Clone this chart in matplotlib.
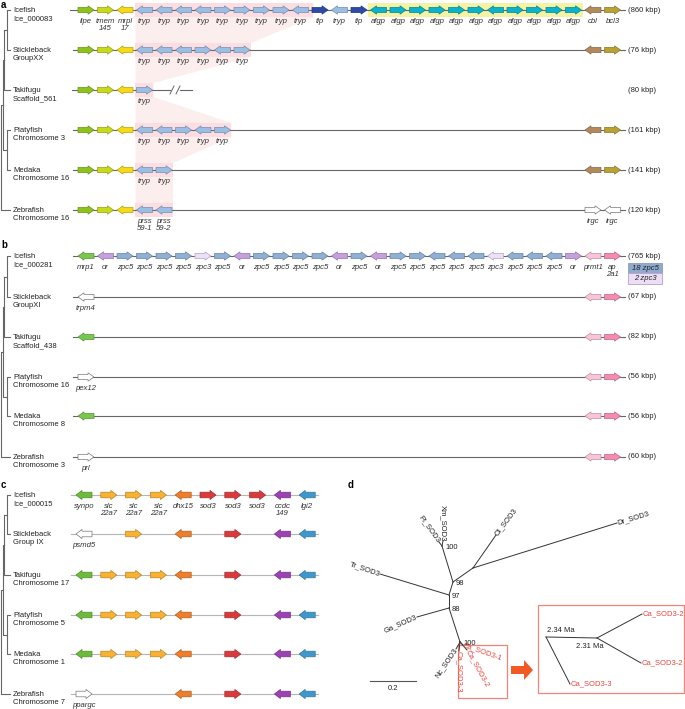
import numpy as np
import matplotlib.pyplot as plt
from matplotlib.patches import Polygon, Rectangle
from matplotlib.colors import to_rgb

plt.rcParams['font.family'] = ['Liberation Sans', 'DejaVu Sans']

# ---------------- data ----------------
species = ['Icefish', 'Stickleback', 'Takifugu', 'Platyfish', 'Medaka', 'Zebrafish']
loci_a = ['Ice_000083', 'GroupXX', 'Scaffold_561', 'Chromosome 3', 'Chromosome 16', 'Chromosome 16']
loci_b = ['Ice_000281', 'GroupXI', 'Scaffold_438', 'Chromosome 16', 'Chromosome 8', 'Chromosome 3']
loci_c = ['Ice_000015', 'Group IX', 'Chromosome 17', 'Chromosome 5', 'Chromosome 1', 'Chromosome 7']
kbp_a = ['860', '76', '80', '161', '141', '120']
kbp_b = ['765', '67', '82', '56', '56', '60']

colors = {
    'lipe': '#8cc31f', 'tmem': '#c9d81a', 'mrpl': '#f7d917', 'tryp': '#9bbfe4',
    'tlp': '#2d4aa8', 'afgp': '#0ab3c9', 'cbl': '#b38a5c', 'bcl3': '#b9a235',
    'mrp1': '#78c850', 'or': '#c4a0e0', 'zpc5': '#8fb0d6', 'zpc3': '#ece0f4',
    'prmt1': '#f8c4da', 'ap2a1': '#f58cae',
    'synpo': '#6dbb3c', 'slc': '#f8b133', 'dhx15': '#ef7d2a', 'sod3': '#d93a3c',
    'ccdc': '#9b41b3', 'lgi2': '#3f98cd', 'white': '#ffffff',
}

# panel a: icefish genes (slot order), directions, labels
ice_a_genes = ['lipe', 'tmem', 'mrpl'] + ['tryp'] * 9 + ['tlp', 'tryp', 'tlp'] + ['afgp'] * 11 + ['cbl', 'bcl3']
ice_a_dirs = [1, 1, -1, -1, -1, -1, -1, 1, 1, 1, 1, -1, 1, -1, 1,
              -1, 1, 1, 1, 1, 1, -1, 1, 1, 1, 1, -1, 1]
ice_a_labels = ['lipe', 'tmem\n145', 'mrpl\n17'] + ['tryp'] * 9 + ['tlp', 'tryp', 'tlp'] + ['afgp'] * 11 + ['cbl', 'bcl3']

# other rows: (slot, gene, dir, label)
rows_a = [
    [(0, 'lipe', 1, ''), (1, 'tmem', 1, ''), (2, 'mrpl', -1, ''),
     (3, 'tryp', -1, 'tryp'), (4, 'tryp', -1, 'tryp'), (5, 'tryp', -1, 'tryp'),
     (6, 'tryp', 1, 'tryp'), (7, 'tryp', -1, 'tryp'), (8, 'tryp', 1, 'tryp'),
     (26, 'cbl', -1, ''), (27, 'bcl3', 1, '')],
    [(0, 'lipe', 1, ''), (1, 'tmem', 1, ''), (2, 'mrpl', -1, ''), (3, 'tryp', 1, 'tryp')],
    [(0, 'lipe', 1, ''), (1, 'tmem', 1, ''), (2, 'mrpl', -1, ''),
     (3, 'tryp', -1, 'tryp'), (4, 'tryp', -1, 'tryp'), (5, 'tryp', 1, 'tryp'),
     (6, 'tryp', -1, 'tryp'), (7, 'tryp', 1, 'tryp'), (26, 'cbl', -1, ''), (27, 'bcl3', 1, '')],
    [(0, 'lipe', 1, ''), (1, 'tmem', 1, ''), (2, 'mrpl', -1, ''),
     (3, 'tryp', -1, 'tryp'), (4, 'tryp', 1, 'tryp'), (26, 'cbl', -1, ''), (27, 'bcl3', 1, '')],
    [(0, 'lipe', 1, ''), (1, 'tmem', 1, ''), (2, 'mrpl', -1, ''),
     (3, 'tryp', -1, 'prss\n59-1'), (4, 'tryp', -1, 'prss\n59-2'),
     (26, 'white', 1, 'irgc'), (27, 'white', -1, 'irgc')],
]
tryp_span_a = [9, 6, 1, 5, 2, 2]  # tryp genes per species (shaded block)

ice_b_genes = (['mrp1', 'or'] + ['zpc5'] * 4 + ['zpc3', 'zpc5', 'or'] + ['zpc5'] * 4 +
               ['or', 'zpc5', 'or'] + ['zpc5'] * 5 + ['zpc3'] + ['zpc5'] * 3 + ['or', 'prmt1', 'ap2a1'])
ice_b_dirs = [-1, -1, 1, 1, 1, 1, 1, 1, -1, 1, 1, 1, 1, -1, 1, -1,
              1, 1, -1, -1, -1, -1, -1, -1, -1, 1, -1, 1]
ice_b_labels = [g if g != 'ap2a1' else 'ap\n2a1' for g in ice_b_genes]
rows_b = [
    [(0, 'white', -1, 'trpm4'), (26, 'prmt1', -1, ''), (27, 'ap2a1', 1, '')],
    [(0, 'mrp1', -1, ''), (26, 'prmt1', -1, ''), (27, 'ap2a1', 1, '')],
    [(0, 'white', 1, 'pex12'), (26, 'prmt1', -1, ''), (27, 'ap2a1', 1, '')],
    [(0, 'mrp1', -1, ''), (26, 'prmt1', -1, ''), (27, 'ap2a1', 1, '')],
    [(0, 'white', 1, 'prl'), (26, 'prmt1', -1, ''), (27, 'ap2a1', 1, '')],
]

ice_c_genes = ['synpo', 'slc', 'slc', 'slc', 'dhx15', 'sod3', 'sod3', 'sod3', 'ccdc', 'lgi2']
ice_c_dirs = [-1, 1, 1, 1, -1, 1, 1, 1, -1, -1]
ice_c_labels = ['synpo', 'slc\n22a7', 'slc\n22a7', 'slc\n22a7', 'dhx15', 'sod3', 'sod3', 'sod3', 'ccdc\n149', 'lgi2']
full_c = [(0, 'synpo', -1, ''), (1, 'slc', 1, ''), (2, 'slc', 1, ''), (3, 'slc', 1, ''),
          (4, 'dhx15', -1, ''), (6, 'sod3', 1, ''), (8, 'ccdc', -1, ''), (9, 'lgi2', -1, '')]
rows_c = [
    [(0, 'white', -1, 'psmd5'), (2, 'slc', 1, ''), (4, 'dhx15', -1, ''),
     (6, 'sod3', 1, ''), (8, 'ccdc', -1, ''), (9, 'lgi2', -1, '')],
    full_c, full_c, full_c,
    [(0, 'white', 1, 'ppargc'), (4, 'dhx15', -1, ''), (6, 'sod3', 1, ''),
     (8, 'ccdc', -1, ''), (9, 'lgi2', -1, '')],
]

# panel d tree: node positions and branches
nodes_d = {
    'xp': (442, 546), 'n98': (453, 582), 'nod': (473, 568), 'Ol': (496, 535), 'Dr': (617, 523),
    'n97': (449, 595), 'Tr': (380, 574), 'n88': (449, 608), 'Ga': (417, 617),
    'n100': (460, 642), 'Nc': (456, 649), 'Ca1': (463, 645), 'Ca2': (467, 650), 'Ca3': (459, 651),
    'Xm': (443, 541), 'Pl': (439, 542),
}
edges_d = [('xp', 'n98'), ('xp', 'Xm'), ('xp', 'Pl'), ('n98', 'nod'), ('nod', 'Ol'), ('nod', 'Dr'),
           ('n98', 'n97'), ('n97', 'Tr'), ('n97', 'n88'), ('n88', 'Ga'), ('n88', 'n100'),
           ('n100', 'Nc'), ('n100', 'Ca1'), ('n100', 'Ca2'), ('n100', 'Ca3')]
leaf_labels_d = [('Xm', 'Xm_SOD3', -90, 'right', 'k'), ('Pl', 'Pl_SOD3', -54, 'right', 'k'),
                 ('Ol', 'Ol_SOD3', 53, 'left', 'k'), ('Dr', 'Dr_SOD3', 17, 'left', 'k'),
                 ('Tr', 'Tr_SOD3', -19, 'right', 'k'), ('Ga', 'Ga_SOD3', 24, 'right', 'k'),
                 ('Nc', 'Nc_SOD3', 56, 'right', 'k'), ('Ca1', 'Ca_SOD3-1', -19, 'left', 'r'),
                 ('Ca2', 'Ca_SOD3-2', -61, 'left', 'r'), ('Ca3', 'Ca_SOD3-3', -90, 'left', 'r')]
bootstraps = [('xp', '100'), ('n98', '98'), ('n97', '97'), ('n88', '88'), ('n100', '100')]
inset_nodes = {'root': (546, 637), 'mid': (597, 638), 'L1': (642, 614), 'L2': (641, 663), 'L3': (570, 684)}
inset_leaves = [('L1', 'Ca_SOD3-2'), ('L2', 'Ca_SOD3-2'), ('L3', 'Ca_SOD3-3')]
ages = ['2.34 Ma', '2.31 Ma']

RED = '#e8453c'
FS = 5.5
FS_GENE = 5.6

# ---------------- drawing ----------------
fig = plt.figure(figsize=(6.85, 7.09), dpi=100)
ax = fig.add_axes([0, 0, 1, 1])
ax.set_xlim(0, 685)
ax.set_ylim(709, 0)
ax.axis('off')


def darker(c, f=0.75):
    r, g, b = to_rgb(c)
    return (r * f, g * f, b * f)


def gene(x, y, key, d, w=16, bh=2.6, hh=4.2, hl=6):
    fc = colors[key]
    ec = '#777777' if key == 'white' else darker(fc)
    if key == 'zpc3':
        ec = '#b9a0d0'
    x0, x1 = x - w / 2, x + w / 2
    if d > 0:
        pts = [(x0, y - bh), (x1 - hl, y - bh), (x1 - hl, y - hh), (x1, y),
               (x1 - hl, y + hh), (x1 - hl, y + bh), (x0, y + bh)]
    else:
        pts = [(x1, y - bh), (x0 + hl, y - bh), (x0 + hl, y - hh), (x0, y),
               (x0 + hl, y + hh), (x0 + hl, y + bh), (x1, y + bh)]
    ax.add_patch(Polygon(pts, closed=True, fc=fc, ec=ec, lw=0.5, zorder=3))


def gene_label(x, y, text):
    if text:
        ax.text(x, y + 8, text, ha='center', va='top', fontsize=FS_GENE, style='italic',
                color='#333333', linespacing=1.05, zorder=4)


def row_label(y, sp, loc):
    ax.text(13, y + 4.5, sp + '\n' + loc, ha='left', va='center', fontsize=FS,
            color='#222222', linespacing=1.12)


def tree(ys):
    # ((((1,2),3),(4,5)),6)
    k = dict(color='#666666', lw=0.8)
    y12 = (ys[0] + ys[1]) / 2
    y123 = (y12 + ys[2]) / 2
    y45 = (ys[3] + ys[4]) / 2
    y12345 = (y123 + y45) / 2
    ax.plot([10, 7, 7, 10], [ys[0], ys[0], ys[1], ys[1]], **k)
    ax.plot([7, 4.5], [y12, y12], **k)
    ax.plot([10, 4.5, 4.5], [ys[2], ys[2], y12], **k)
    ax.plot([10, 7, 7, 10], [ys[3], ys[3], ys[4], ys[4]], **k)
    ax.plot([4.5, 3, 3, 7], [y123, y123, y45, y45], **k)
    ax.plot([3, 1, 1, 10], [y12345, y12345, ys[5], ys[5]], **k)


# ---- panel a ----
ya = [10, 50, 90, 130, 170, 210]
slot_ab = 86 + 19.5 * np.arange(28)
tryp_l = slot_ab[3] - 9
tryp_r = [slot_ab[3 + n - 1] + 9 for n in tryp_span_a]
shade = [(tryp_l, ya[0] - 7)]
for i, y in enumerate(ya):
    shade += [(tryp_r[i], y - 7), (tryp_r[i], y + 7)] if i else [(tryp_r[i] + 4, y - 7), (tryp_r[i] + 4, y + 7)]
shade += [(tryp_l, ya[-1] + 7)]
ax.add_patch(Polygon(shade, closed=True, fc='#fdeeee', ec='none', zorder=0))
for i, y in enumerate(ya):
    extra = 4 if i == 0 else 0
    ax.add_patch(Rectangle((tryp_l, y - 7), tryp_r[i] + extra - tryp_l, 14, fc='#fbdde2', ec='none', zorder=1))
ax.add_patch(Rectangle((slot_ab[15] - 10, ya[0] - 7), slot_ab[25] - slot_ab[15] + 20, 14,
                       fc='#f4f3a3', ec='none', zorder=1))

for i, y in enumerate(ya):
    if i == 2:
        ax.plot([72, 170], [y, y], color='#666666', lw=0.8, zorder=2)
        ax.plot([180, 192], [y, y], color='#666666', lw=0.8, zorder=2)
        for bx in (172, 178):
            ax.plot([bx - 2, bx + 2], [y + 4, y - 4], color='#666666', lw=0.7, zorder=2)
    else:
        ax.plot([70 if i == 0 else 73, 625], [y, y], color='#666666', lw=0.8, zorder=2)
    row_label(y, species[i], loci_a[i])
    ax.text(628, y, '(' + kbp_a[i] + ' kbp)', ha='left', va='center', fontsize=FS, color='#222222')
for s in range(28):
    gene(slot_ab[s], ya[0], ice_a_genes[s], ice_a_dirs[s])
    gene_label(slot_ab[s], ya[0], ice_a_labels[s])
for i, row in enumerate(rows_a):
    for s, g, d, lab in row:
        gene(slot_ab[s], ya[i + 1], g, d)
        gene_label(slot_ab[s], ya[i + 1], lab)
tree(ya)

# ---- panel b ----
yb = [256, 297, 337, 377, 416, 457]
for i, y in enumerate(yb):
    ax.plot([73, 625], [y, y], color='#666666', lw=0.8, zorder=2)
    row_label(y, species[i], loci_b[i])
    ax.text(628, y, '(' + kbp_b[i] + ' kbp)', ha='left', va='center', fontsize=FS, color='#222222')
for s in range(28):
    gene(slot_ab[s], yb[0], ice_b_genes[s], ice_b_dirs[s])
    gene_label(slot_ab[s], yb[0], ice_b_labels[s])
for i, row in enumerate(rows_b):
    for s, g, d, lab in row:
        gene(slot_ab[s], yb[i + 1], g, d)
        gene_label(slot_ab[s], yb[i + 1], lab)
ax.add_patch(Rectangle((628, 263), 34, 10, fc='#8eaacc', ec='#8090b0', lw=0.5))
ax.text(645, 268, '18 zpc5', ha='center', va='center', fontsize=FS, style='italic', color='#222222')
ax.add_patch(Rectangle((628, 273), 34, 10.5, fc='#ecdff5', ec='#b9a0d0', lw=0.6))
ax.text(645, 278.5, '2 zpc3', ha='center', va='center', fontsize=FS, style='italic', color='#222222')
tree(yb)

# ---- panel c ----
yc = [495, 534, 575, 615, 654, 694]
slot_c = 84 + 24.8 * np.arange(10)
for i, y in enumerate(yc):
    ax.plot([71, 318], [y, y], color='#b5b5b5', lw=0.8, zorder=2)
    row_label(y, species[i], loci_c[i])
for s in range(10):
    gene(slot_c[s], yc[0], ice_c_genes[s], ice_c_dirs[s], w=16, bh=2.8, hh=4.6)
    gene_label(slot_c[s], yc[0], ice_c_labels[s])
for i, row in enumerate(rows_c):
    for s, g, d, lab in row:
        gene(slot_c[s], yc[i + 1], g, d, w=16, bh=2.8, hh=4.6)
        gene_label(slot_c[s], yc[i + 1], lab)
tree(yc)

# ---- panel d ----
for a, b in edges_d:
    (x0, y0), (x1, y1) = nodes_d[a], nodes_d[b]
    ax.plot([x0, x1], [y0, y1], color='#333333', lw=0.7)
for key, lab, rot, ha, col in leaf_labels_d:
    x, y = nodes_d[key]
    ax.text(x, y, lab, rotation=rot, rotation_mode='anchor', ha=ha, va='center',
            fontsize=FS, color=RED if col == 'r' else '#222222')
for key, lab in bootstraps:
    x, y = nodes_d[key]
    ax.text(x + 3, y + 1.5, lab, ha='left', va='center', fontsize=FS, color='#222222')
ax.plot([370, 416], [681, 681], color='#555555', lw=0.8)
ax.text(393, 685, '0.2', ha='center', va='top', fontsize=FS, color='#222222')
ax.add_patch(Rectangle((458, 645), 49, 53, fc='none', ec='#f08476', lw=0.9))
ax.add_patch(Rectangle((538, 605), 146, 88, fc='none', ec='#f08476', lw=0.9))
ax.add_patch(Polygon([(511, 666), (524, 666), (524, 660), (533, 670), (524, 680), (524, 674), (511, 674)],
                     closed=True, fc='#f15a24', ec='none'))
inset_edges = [('root', 'mid'), ('mid', 'L1'), ('mid', 'L2'), ('root', 'L3')]
for a, b in inset_edges:
    (x0, y0), (x1, y1) = inset_nodes[a], inset_nodes[b]
    ax.plot([x0, x1], [y0, y1], color='#333333', lw=0.7)
for key, lab in inset_leaves:
    x, y = inset_nodes[key]
    ax.text(x + 1, y, lab, ha='left', va='center', fontsize=FS, color=RED)
ax.text(547, 634, ages[0], ha='left', va='bottom', fontsize=FS, color='#222222')
ax.text(576, 646, ages[1], ha='left', va='center', fontsize=FS, color='#222222')

# panel letters
for lab, x, y in [('a', 1, 5), ('b', 1, 245), ('c', 1, 485), ('d', 348, 485)]:
    ax.text(x, y, lab, ha='left', va='center', fontsize=7, fontweight='bold')

fig.savefig('out.png', dpi=100)
